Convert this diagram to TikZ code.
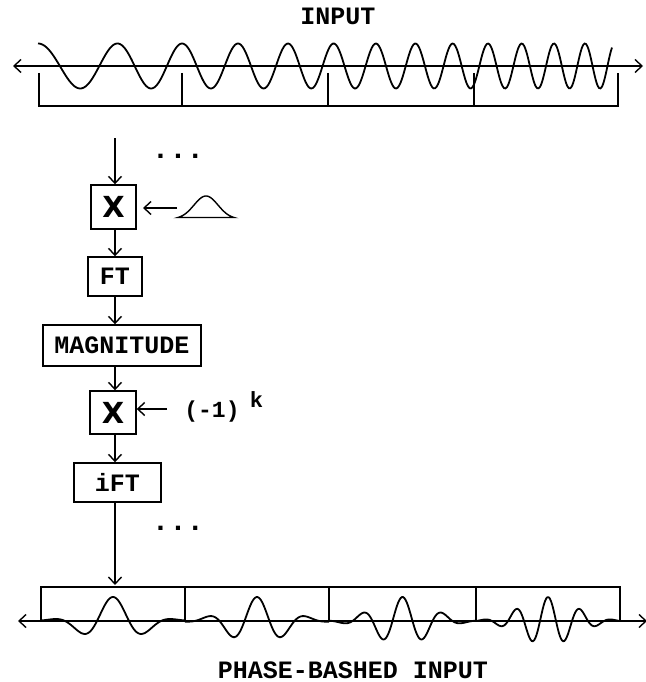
\documentclass[tikz,border=0pt]{standalone}
\usepackage{fontspec}
\setmonofont{Liberation Mono}
\newfontfamily\crossfont{DejaVu Sans}
\usetikzlibrary{arrows.meta,positioning}

\tikzset{
  lbl/.style={font=\fontsize{25}{25}\selectfont\ttfamily\bfseries},
  blk/.style={draw,line width=1.4pt,inner sep=0pt,lbl},
  mul/.style={blk,minimum width=45pt,minimum height=44pt,font=\fontsize{29}{29}\selectfont\crossfont\bfseries},
  dots/.style={font=\fontsize{29}{29}\selectfont\ttfamily\bfseries},
  wave/.style={line width=1.8pt,smooth},
}

\begin{document}
\begin{tikzpicture}[x=1pt,y=-1pt,line width=1.4pt,>={Straight Barb[length=7pt,width=13pt]}]
\useasboundingbox (0,0) rectangle (645,682);

% input signal
\node[lbl] (intitle) at (338,16.5) {INPUT};
\coordinate (inL) at (13,66);
\coordinate (inR) at (643,66);
\draw[<->] (inL) -- (inR);
\draw[wave] plot[domain=38:612,samples=400]
  (\x,{66-22.5*cos(360*(1.1*(\x-38)/100+0.2*((\x-38)/100)^2))});
\foreach \a/\b in {39/182,182/328,328/474,474/618}
  \draw (\a,73) -- (\a,106) -- (\b,106) -- (\b,73);

% processing chain
\coordinate (top) at (115,138);
\node[mul] (mulA) at (113.5,207) {X};
\node[blk,minimum width=54pt,minimum height=39pt] (ft) at (115,276.5) {FT};
\node[blk,minimum width=158pt,minimum height=41pt] (mag) at (122,345.5) {MAGNITUDE};
\node[mul,minimum width=46pt,minimum height=43pt] (mulB) at (113,412.5) {X};
\node[blk,minimum width=87pt,minimum height=39pt] (ift) at (117.5,482.5) {iFT};
\coordinate (bot) at (115,585);
\node[dots] (dotsA) at (178,156) {...};
\node[dots] (dotsB) at (178,528) {...};

\draw[->] (top) -- (top |- mulA.north);
\draw[->] (top |- mulA.south) -- (top |- ft.north);
\draw[->] (top |- ft.south) -- (top |- mag.north);
\draw[->] (top |- mag.south) -- (top |- mulB.north);
\draw[->] (top |- mulB.south) -- (top |- ift.north);
\draw[->] (top |- ift.south) -- (bot);

% window
\coordinate (winA) at (177,208);
\coordinate (winB) at (143,208);
\draw[->] (winA) -- (winB);
\draw plot[domain=178:234,samples=60,smooth] (\x,{219-23*exp(-((\x-206)/12)^2/2)}) -- cycle;

% sign flip
\node[font=\fontsize{23}{23}\selectfont\ttfamily\bfseries] (sign) at (212,412) {(-1)};
\node[font=\fontsize{22}{22}\selectfont\ttfamily\bfseries] (expk) at (256.5,399.5) {k};
\coordinate (sgnA) at (167,409);
\draw[->] (sgnA) -- (mulB.east |- sgnA);

% output signal
\coordinate (outL) at (18,621);
\coordinate (outR) at (647,621);
\draw[<->] (outL) -- (outR);
\foreach \a/\b/\p in {41/185/64,185/329/50,329/476/40,476/620/32} {
  \draw (\a,621) -- (\a,587) -- (\b,587) -- (\b,621);
  \draw[wave] plot[domain=\a:\b,samples=120]
    (\x,{621-24*exp(-((\x-(\a+\b)/2)/27)^2/2)*cos(360/\p*(\x-(\a+\b)/2))});
}
\node[lbl] (outtitle) at (353,670) {PHASE-BASHED INPUT};
\end{tikzpicture}
\end{document}
